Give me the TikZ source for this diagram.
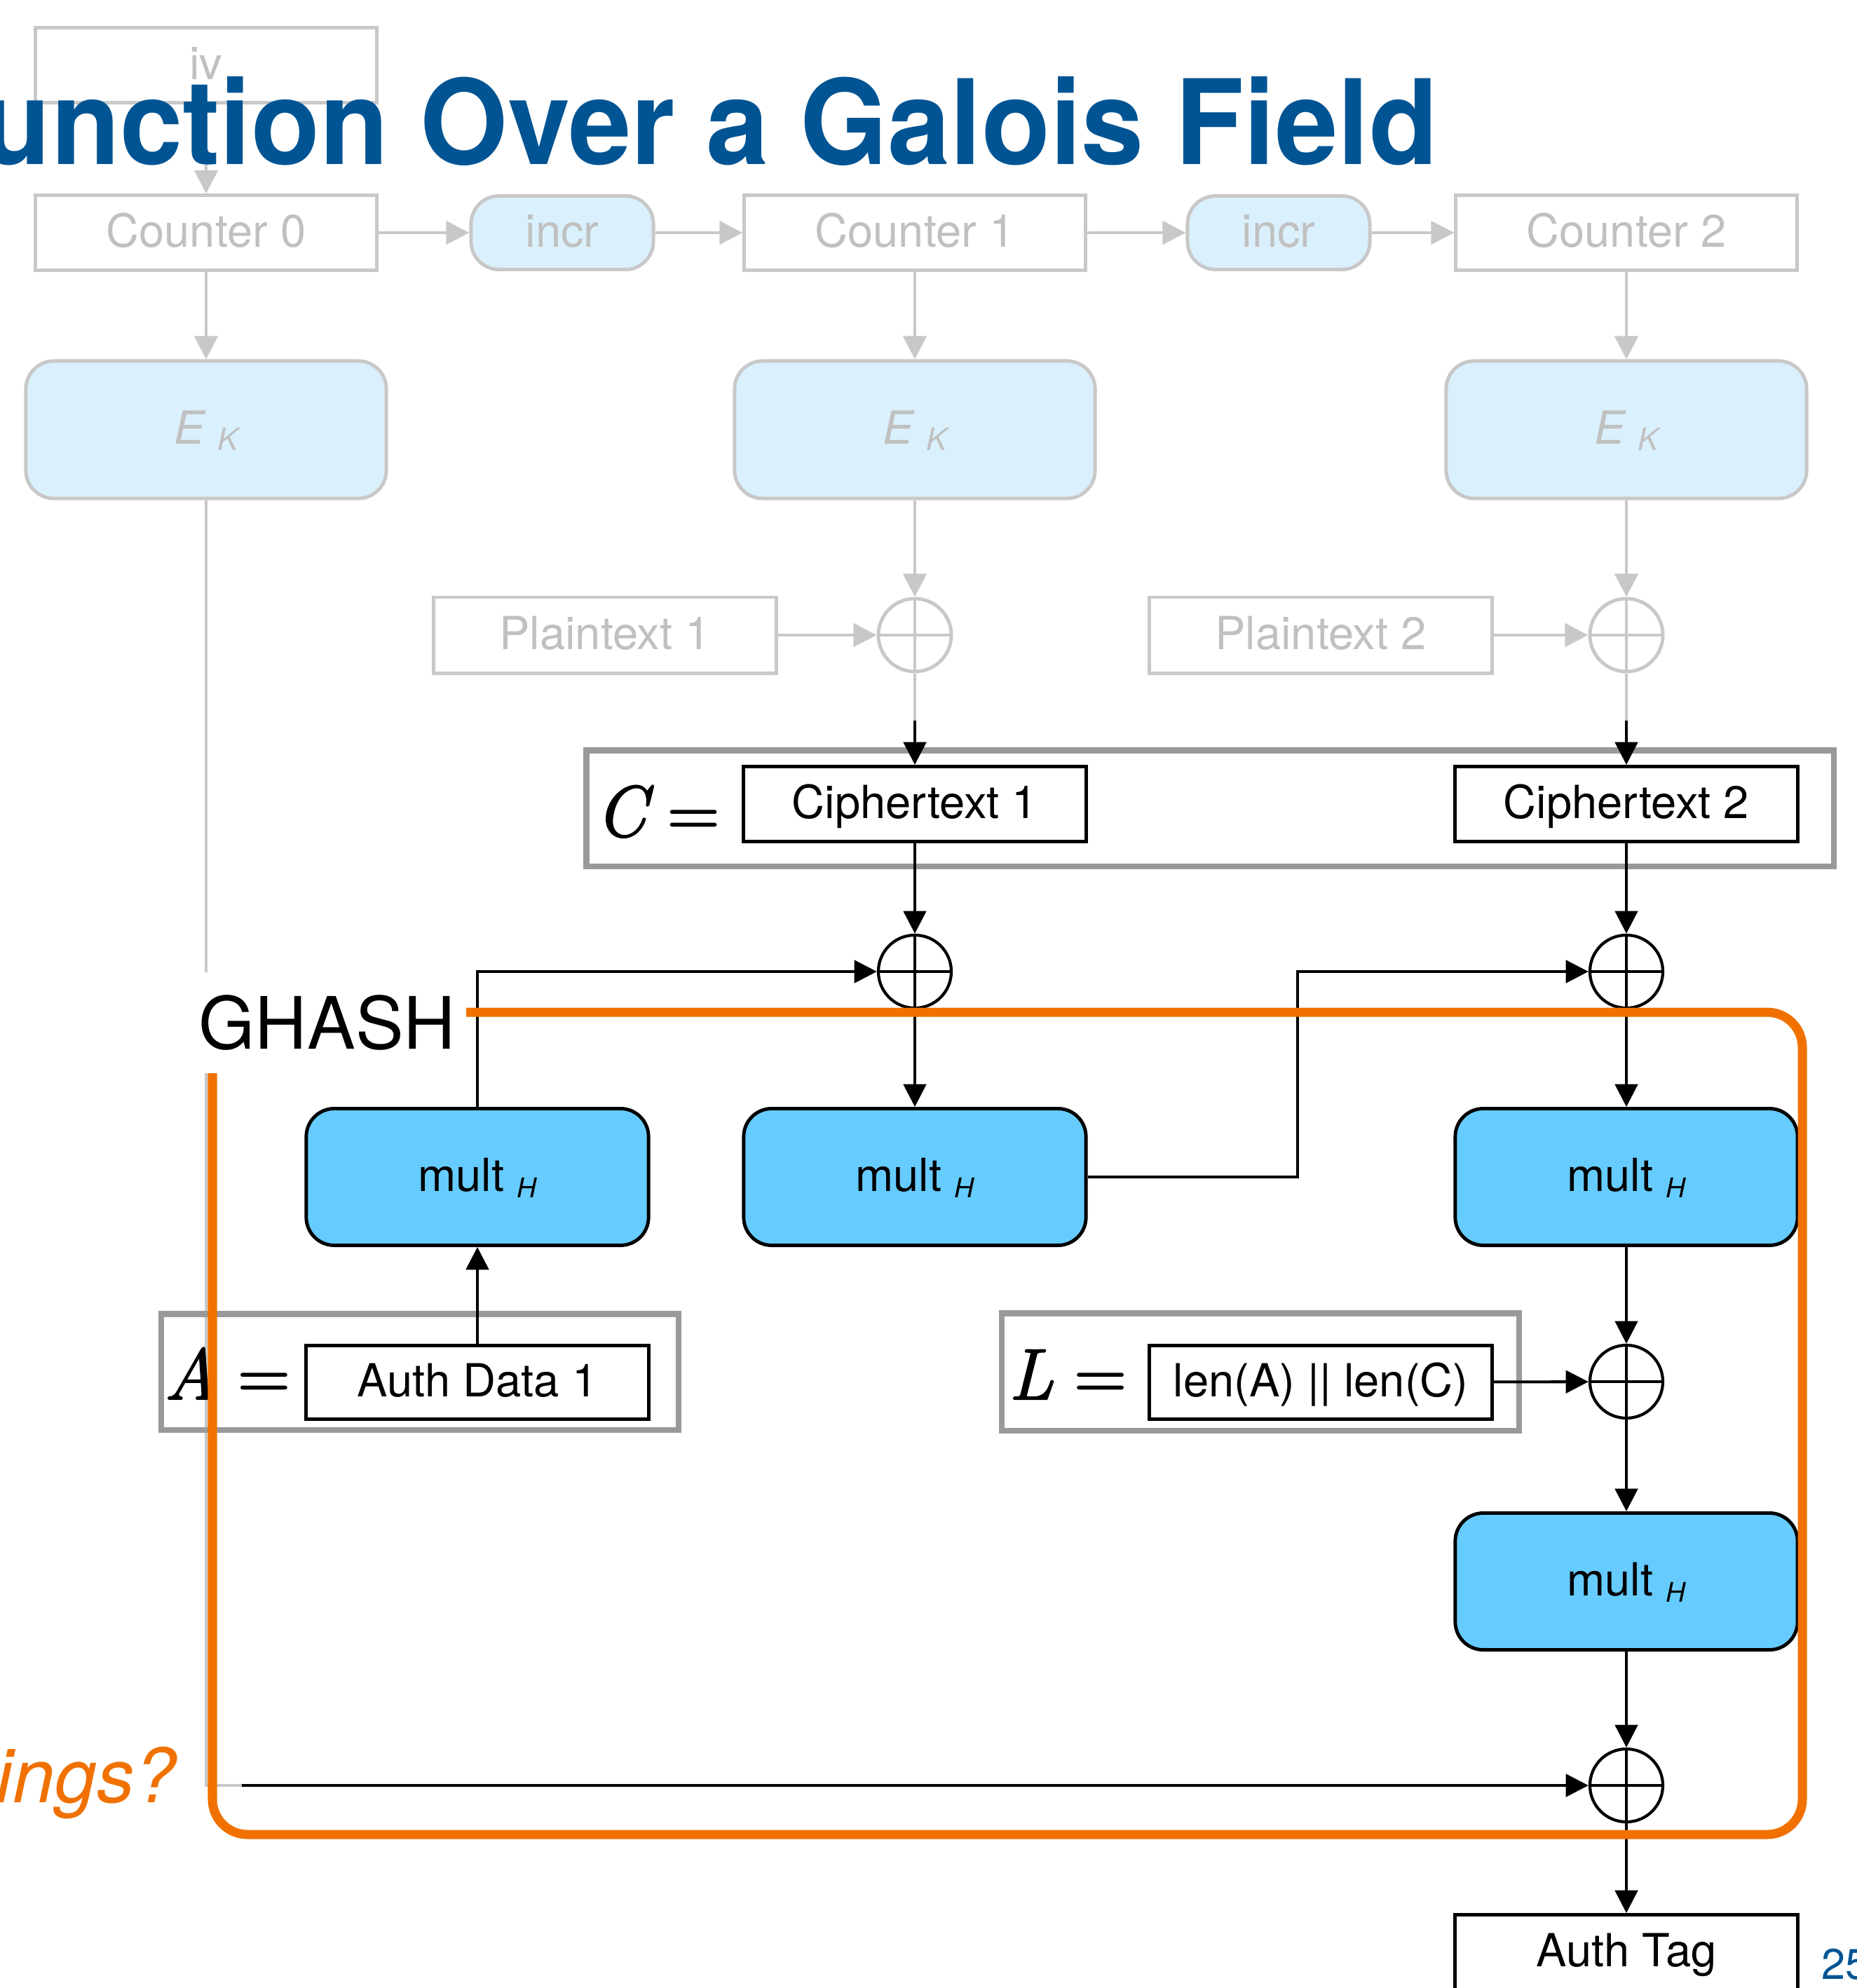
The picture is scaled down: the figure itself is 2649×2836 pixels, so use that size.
\RequirePackage{fix-cm}
\documentclass[tikz,border=0pt]{standalone}
\usepackage[no-math]{fontspec}
\setmainfont{TeX Gyre Heros}
\newfontfamily\eqfont[FakeBold=2]{Latin Modern Roman}
\usepackage{graphicx}
\usetikzlibrary{arrows.meta}

\definecolor{titleblue}{RGB}{0,84,147}
\definecolor{ghorange}{RGB}{240,113,0}
\definecolor{fadeline}{RGB}{200,200,200}
\definecolor{fadetext}{RGB}{192,192,192}
\definecolor{fadefill}{RGB}{218,240,252}
\definecolor{multfill}{RGB}{102,204,255}
\definecolor{framegray}{RGB}{153,153,153}

\tikzset{
  lbl/.style={font=\fontsize{18.5}{20}\selectfont, text height=0.40cm, text depth=0pt, inner sep=0pt},
  fadebox/.style={lbl, draw=fadeline, line width=1.4pt, text=fadetext,
    minimum width=4.86cm, minimum height=1.07cm},
  fadeblock/.style={lbl, draw=fadeline, fill=fadefill, line width=1.4pt, text=fadetext,
    rounded corners=0.4cm, minimum width=5.14cm, minimum height=1.96cm},
  fadeincr/.style={lbl, draw=fadeline, fill=fadefill, line width=1.4pt, text=fadetext,
    rounded corners=0.4cm, minimum width=2.6cm, minimum height=1.05cm},
  blackbox/.style={lbl, draw=black, line width=1.4pt, minimum width=4.88cm, minimum height=1.07cm},
  multbox/.style={lbl, draw=black, fill=multfill, line width=1.4pt, rounded corners=0.4cm,
    minimum width=4.88cm, minimum height=1.95cm},
  groupbox/.style={draw=framegray, line width=2.3pt, inner sep=0pt},
  eqlbl/.style={anchor=base, inner sep=0pt, font=\eqfont\fontsize{29.3}{30}\selectfont},
  xorop/.style={circle, draw=#1, line width=1.2pt, minimum size=1.04cm, inner sep=0pt,
    path picture={\draw[#1, line width=1.2pt]
      (path picture bounding box.north) -- (path picture bounding box.south)
      (path picture bounding box.west) -- (path picture bounding box.east);}},
  xorop/.default=black,
  fadeflow/.style={draw=fadeline, line width=1.4pt, -{Triangle[length=9.4pt,width=9.4pt]}},
  fadewire/.style={draw=fadeline, line width=1.4pt},
  flow/.style={draw=black, line width=1.15pt, -{Triangle[length=9.2pt,width=9.2pt]}},
}

\newcommand{\ek}{{\itshape E}~\raisebox{-2.6pt}{\fontsize{12.5}{13}\selectfont\itshape K}}
\newcommand{\multh}{mult~\raisebox{-2.8pt}{\fontsize{11}{12}\selectfont\itshape H}}
\newcommand{\defeq}[1]{{\itshape #1}\hspace{0.3cm}=}

\begin{document}
\begin{tikzpicture}[x=0.01cm, y=-0.01cm]
\useasboundingbox (0,0) rectangle (2649,2836);

% ---- counter-mode encryption part (faded) ----
\node[fadebox] (iv) at (294,93) {iv};
\node[fadebox] (ctr0) at (294,332) {Counter 0};
\node[fadeincr] (inc1) at (802,332) {incr};
\node[fadebox] (ctr1) at (1305,332) {Counter 1};
\node[fadeincr] (inc2) at (1824,332) {incr};
\node[fadebox] (ctr2) at (2320,332) {Counter 2};

\node[fadeblock] (ek0) at (294,613) {\ek};
\node[fadeblock] (ek1) at (1305,613) {\ek};
\node[fadeblock] (ek2) at (2320,613) {\ek};

\node[fadebox, minimum width=4.88cm, minimum height=1.08cm] (pt1) at (863,906) {Plaintext 1};
\node[xorop=fadeline, line width=1.4pt] (xp1) at (1305,906) {};
\node[fadebox, minimum width=4.88cm, minimum height=1.08cm] (pt2) at (1884,906) {Plaintext 2};
\node[xorop=fadeline, line width=1.4pt] (xp2) at (2320,906) {};

\coordinate (c1in) at (1305,1028);
\coordinate (c2in) at (2320,1028);
\coordinate (tapin) at (345,2547);

\draw[fadeflow] (iv) -- (ctr0);
\draw[fadeflow] (ctr0) -- (inc1);
\draw[fadeflow] (inc1) -- (ctr1);
\draw[fadeflow] (ctr1) -- (inc2);
\draw[fadeflow] (inc2) -- (ctr2);
\draw[fadeflow] (ctr0) -- (ek0);
\draw[fadeflow] (ctr1) -- (ek1);
\draw[fadeflow] (ctr2) -- (ek2);
\draw[fadeflow] (ek1) -- (xp1);
\draw[fadeflow] (ek2) -- (xp2);
\draw[fadeflow] (pt1) -- (xp1);
\draw[fadeflow] (pt2) -- (xp2);
\draw[fadewire] (xp1.south) -- (c1in);
\draw[fadewire] (xp2.south) -- (c2in);
\draw[fadewire] (ek0.south) |- (tapin);

% ---- ciphertext, additional data and length blocks ----
\node[groupbox, minimum width=17.78cm, minimum height=1.65cm] (cbox) at (1726,1153) {};
\node[eqlbl] (ceq) at (938,1193) {\defeq{C}};
\node[blackbox] (ct1) at (1305,1147) {Ciphertext 1};
\node[blackbox] (ct2) at (2320,1147) {Ciphertext 2};

\node[groupbox, minimum width=7.37cm, minimum height=1.65cm] (abox) at (599,1957) {};
\node[eqlbl] (aeq) at (324,1996) {\defeq{A}};
\node[blackbox, minimum height=1.05cm] (ad1) at (681,1972) {Auth Data 1};

\node[groupbox, minimum width=7.38cm, minimum height=1.67cm] (lbox) at (1798,1957) {};
\node[eqlbl] (leq) at (1523,1996) {\defeq{L}};
\node[blackbox, minimum height=1.05cm] (len) at (1884,1972) {len(A) || len(C)};

% ---- GHASH chain ----
\node[xorop] (xc1) at (1305,1386) {};
\node[xorop] (xc2) at (2320,1386) {};
\node[multbox] (m0) at (681,1679) {\multh};
\node[multbox] (m1) at (1305,1679) {\multh};
\node[multbox] (m2) at (2320,1679) {\multh};
\node[xorop] (xl) at (2320,1971) {};
\node[multbox] (m3) at (2320,2256) {\multh};
\node[xorop] (xf) at (2320,2547) {};
\node[blackbox] (tag) at (2320,2785) {Auth Tag};
\coordinate (jog) at (1851,1386);

\draw[flow] (c1in) -- (ct1.north);
\draw[flow] (c2in) -- (ct2.north);
\draw[flow] (ct1) -- (xc1);
\draw[flow] (ct2) -- (xc2);
\draw[flow] (ad1) -- (m0);
\draw[flow] (m0.north) |- (xc1.west);
\draw[flow] (xc1) -- (m1);
\draw[flow] (m1.east) -| (jog) -- (xc2.west);
\draw[flow] (xc2) -- (m2);
\draw[flow] (m2) -- (xl);
\draw[flow] (len) -- (xl);
\draw[flow] (xl) -- (m3);
\draw[flow] (m3) -- (xf);
\draw[flow] (tapin) -- (xf);
\draw[flow] (xf) -- (tag);

% ---- GHASH frame and its label ----
\draw[ghorange, line width=3.7pt, rounded corners=0.5cm] (303,1444) rectangle (2571,2617);
\node[fill=white, inner sep=0pt, minimum width=3.95cm, minimum height=1.44cm,
      font=\fontsize{29.3}{30}\selectfont] (ghash) at (467,1459) {GHASH};

% ---- slide text ----
\node[anchor=base east, inner sep=0pt, text=titleblue,
      font=\bfseries\fontsize{47.8}{50}\selectfont] (title) at (2052,234)
      {\scalebox{0.955}[1]{unction Over a Galois Field}};
\node[anchor=base east, inner sep=0pt, text=ghorange,
      font=\itshape\fontsize{30.5}{32}\selectfont] (question) at (252,2571) {ings?};
\node[anchor=base west, inner sep=0pt, text=titleblue,
      font=\fontsize{17.4}{18}\selectfont] (pagenum) at (2598,2823) {25};
\end{tikzpicture}
\end{document}
